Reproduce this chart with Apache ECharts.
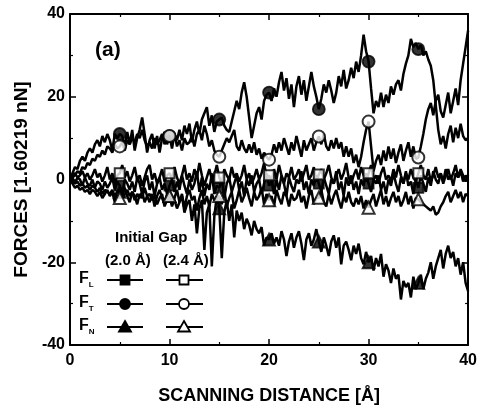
<!DOCTYPE html>
<html>
<head>
<meta charset="utf-8">
<script src="https://cdn.jsdelivr.net/npm/echarts@6/dist/echarts.min.js"></script>
<style>
  html, body { margin: 0; padding: 0; background: #fff; }
  #chart { width: 480px; height: 411px; }
</style>
</head>
<body>
<div id="chart"></div>
<script>
// sampling step along the scan, in Angstrom (values below are read every 0.25 A)
const scanStep = 0.25;
const xTicks = [0, 10, 20, 30, 40];
const yTicks = [-40, -20, 0, 20, 40];

// F_T, initial gap 2.0 A (filled circles)
const ft20 = [
  0, 1.5, 3, 2.5,   4.5, 5.5, 4.5, 6.5,   7.5, 6.5, 8.5, 9.5,   8, 10.5, 9, 11,   9.5, 7, 11, 10,
  11, 10.5, 8, 11.5,   8.5, 12, 7, 10,   12, 15, 11, 6.5,   9.5, 11, 7.5, 10.5,   6.5, 10, 11.5, 8.5,
  10.5, 7.5, 11, 9.5,   12, 9.5, 13, 11,   13.5, 9, 12, 14,   11, 14.5, 16, 17.5,   13, 15.5, 11.5, 14,
  14.5, 15, 13, 12,   11.5, 14, 16.5, 19,   17, 21, 23.5, 20,   15, 10, 13, 16,   17.5, 14.5, 19, 20.5,
  21, 19, 22, 20,   23.5, 26, 21.5, 24.5,   19.5, 23, 17.5, 22.5,   25, 20.5, 24, 19,   22.5, 26, 22.5, 20,
  17, 19.5, 23, 21,   24, 21.5, 18.5, 21,   25, 22.5, 26.5, 22,   24, 27, 24.5, 28.5,   26, 30, 35, 31,
  28.5, 22, 16, 19,   17.5, 21, 17.5, 20.5,   18.5, 22.5, 20.5, 23,   24, 21.5, 25.5, 28,   30, 34, 32, 33,
  31.5, 32.5, 30, 31,   29, 27.5, 24, 18,   12, 8.5, 10.5, 7.5,   11, 13, 9, 12.5,   10, 13.5, 10.5, 9.5,
  10
];

// F_T, initial gap 2.4 A (open circles)
const ft24 = [
  0, 0.5, 1, 2,   1.5, 3, 2.5, 4,   3.5, 5, 4.5, 6,   5.5, 7, 6, 8,   7.5, 6.5, 8.5, 7.5,
  8, 9, 7, 9.5,   8.5, 10, 9, 11,   10, 12, 9.5, 8,   9, 7.5, 10, 8.5,   9.5, 11, 8.5, 10,
  10.5, 9, 11, 8,   9.5, 7, 10, 8.5,   9, 10.5, 8, 11,   12, 9.5, 13, 11,   8, 9.5, 7, 6,
  5.5, 7, 8.5, 10,   9, 10.5, 12, 8,   7, 9.5, 7.5, 6.5,   8.5, 6.5, 9, 6,   7.5, 5, 6.5, 5.5,
  4.8, 6, 8.5, 6.5,   9, 7, 10, 8,   6, 9, 7, 10.5,   8, 5.5, 9.5, 7,   8.5, 10, 7, 9,
  10.4, 8.5, 11, 8,   7, 9.5, 7.5, 10,   7.5, 9, 5.5, 8,   5.5, 7.5, 4, 6,   3, 5.5, 9, 12,
  14, 8, 2, 4.5,   6, 3.5, 7, 4.5,   8, 5, 7.5, 4,   6.5, 8.5, 4.5, 7,   9, 5.5, 8, 5,
  5.3, 8, 11, 14.5,   17, 18.5, 15.5, 19,   20.5, 16.5, 15, 18,   21, 16, 19, 22,   18, 24, 28, 32,
  36
];

// F_N, initial gap 2.0 A (filled triangles)
const fn20 = [
  0, -0.5, -1, -0.5,   -1.5, -1, -2, -1.5,   -2.5, -1.5, -2, -3,   -2, -3.5, -2.5, -3,   -3.5, -2.5, -4, -3,
  -3, -4.5, -3.5, -2.5,   -4, -3, -5, -3.5,   -4.5, -3, -5.5, -4,   -3.5, -5, -4, -6,   -4.5, -3.5, -6.5, -5,
  -4, -6, -5, -7,   -5.5, -4, -8, -6,   -5, -10, -6, -13,   -7, -5, -17, -8,   -6, -21, -9, -4,
  -7, -19, -8, -5,   -10, -6, -14, -7.5,   -10, -8, -12, -9.5,   -11, -13.5, -10, -12,   -13, -11.5, -16, -14,
  -14.5, -13, -15.5, -14,   -16, -12.5, -14.5, -18.5,   -15, -13, -16.5, -14,   -12.5, -15.5, -19.5, -14.5,   -13, -16, -14.5, -12,
  -15, -17.5, -14, -16,   -18.5, -15, -13.5, -16.5,   -14, -20.5, -16, -15,   -17, -19.5, -16, -18,   -15.5, -19, -20.5, -17.5,
  -20, -18.5, -22, -19,   -21, -18, -23.5, -20.5,   -22, -25, -21.5, -24,   -23, -29, -24.5, -26,   -25, -28.5, -23.5, -26.5,
  -25, -23, -26.5, -24,   -22.5, -20, -24, -21,   -19, -17, -21.5, -18,   -16, -19, -17.5, -21,   -19, -23, -20, -25,
  -27
];

// F_L, initial gap 2.0 A (filled squares)
const fl20 = [
  0, 0.5, -1, 0.5,   0, -1.5, 0.5, -1,   -1.5, 0, -2, -0.5,   -1, -2.5, -0.5, -2,   -1, 0.5, -2.5, -0.5,
  -1.5, -3.5, 0, -1,   -2.5, -0.5, -3, 0.5,   -1, -3.5, -0.5, 1,   -2.5, -0.5, -4, -1,   0.5, -2.5, -1, -3.5,
  -1.5, 0, -3, -0.5,   -2.5, 1, -1.5, -3.5,   0, -2.5, -1, 2,   -3, 0.5, -4, -1,   -2.5, 1.5, -3.5, -1.5,
  -2, 0, -4.5, -1,   0.5, -3, -1, 1,   -2.5, -0.5, -4, 0,   -1.5, 1, -3, -1,   0, -3.5, -1, 1.5,
  -1.5, -0.5, -3.5, 0,   -2.5, 1, -1, -4,   0.5, -1.5, -3, 0,   -1, 2, -2.5, -0.5,   -3.5, 0, -1.5, 1,
  -1, -3, 0.5, -1.5,   -3.5, 0, -1, 2,   -2.5, -0.5, -4, 0.5,   -1.5, 1, -2.5, -0.5,   -3.5, 0, -1.5, 1.5,
  -1, -3, 0, -1,   1, -2.5, -0.5, -3.5,   0, -1.5, 1.5, -1,   -3, 0.5, -1, 2,   -1.5, -0.5, -3.5, 0,
  -2, 1, -1, -3,   0.5, -1.5, 2, 0,   -1, 1.5, -0.5, 2.5,   0, 1, -1.5, 1.5,   0.5, 2, -0.5, 1,
  0
];

// F_L, initial gap 2.4 A (open squares)
const fl24 = [
  0, 1, 1.5, 0.5,   1, 2, 0.5, 1.5,   0, 1, 2.5, 0.5,   1.5, -0.5, 1, 3,   0, 1.5, -1, 1,
  1.5, 3.5, 0.5, 2,   -0.5, 1, 3, 0,   1, -1.5, 0.5, 2.5,   3.5, 0, 1.5, -1,   0.5, 2.5, -0.5, 1,
  1.5, 0, 3, 0.5,   -1, 1, 3.5, 0,   1.5, -0.5, 2.5, 0.5,   4, 1, -1.5, 0.5,   2.5, 0, 1, 3.5,
  0.5, -1, 2.5, 1,   0, 3, 0.5, 1.5,   -0.5, 1, 3.5, 0,   1.5, -1, 0.5, 2.5,   0, 1.5, 4, 0.5,
  1, -0.5, 2.5, 0,   3.5, 1, -1, 1.5,   0.5, 3, 0, 1,   2.5, -0.5, 1.5, 3.5,   0, 1, 3, -0.5,
  1.2, 2.5, 0, 1.5,   3.5, 0.5, -1, 1,   2.5, 0, 1.5, 4,   0.5, -1, 1, 2.5,   0, 3, 1, -0.5,
  1.5, 3.5, 0, 1,   -1, 1.5, 3, 0,   1, -0.5, 2.5, 0.5,   3.5, 1, -1, 1.5,   0, 2.5, 0.5, -0.5,
  1.5, 3.5, 1, 0,   2.5, -0.5, 1, 3,   0.5, 1.5, -1, 1,   2.5, 0, 1.5, 3.5,   0.5, 2.5, 1, -0.5,
  1
];

// F_N, initial gap 2.4 A (open triangles)
const fn24 = [
  0, -1, -2, -1.5,   -2.5, -2, -3, -2.5,   -3.5, -2.5, -3, -4,   -3, -4.5, -3.5, -2.5,   -4, -3, -5.5, -4,
  -4.5, -3.5, -2, -4,   -5.5, -3, -4, -6,   -3.5, -4.5, -2, -4,   -5.5, -3.5, -6.5, -4,   -2.5, -4.5, -6, -3.5,
  -4, -6.5, -4.5, -2.5,   -5.5, -3.5, -7, -4,   -2.5, -5, -4, -7.5,   -4.5, -2.5, -6, -4,   -6.5, -3.5, -5, -4.5,
  -4, -6, -2.5, -6.5,   -4.5, -3, -7, -5,   -2.5, -5.5, -4, -2,   -4.5, -6.5, -3, -5,   -4, -2, -6, -3.5,
  -5, -4, -6.5, -2.5,   -4.5, -6, -3, -4,   -6.5, -3.5, -5, -4.5,   -2.5, -5.5, -4, -7,   -4, -2.5, -6, -4.5,
  -4.4, -2.5, -5.5, -6.5,   -3.5, -6, -4, -2.5,   -5, -7, -4, -5.5,   -3, -5.5, -6.5, -4.5,   -6, -4, -7, -5,
  -6.8, -5, -3.5, -6.5,   -4.5, -2.5, -6, -4,   -6.5, -4.5, -3, -5.5,   -4, -6.5, -5, -3,   -6, -4, -7, -4.5,
  -4.8, -5.5, -6, -6.5,   -7, -7.5, -6.5, -8.5,   -8, -6.5, -5.5, -4,   -3, -5.5, -4, -2.5,   -4.5, -3, -5.5, -3.5,
  -4
];

const FONT = '"Liberation Sans", Arial, sans-serif';

function toPoints(vals) {
  return vals.map((v, i) => [i * scanStep, v]);
}

// markers every 5 A (every 20th sample), not at the ends
function markerPoints(vals) {
  return toPoints(vals).filter((p, i) => i > 0 && i < vals.length - 1 && i % 20 === 0);
}

function lineSeries(name, vals) {
  return {
    name: name,
    type: 'line',
    data: toPoints(vals),
    showSymbol: false,
    lineStyle: { color: '#000', width: 2.5 },
    silent: true,
    animation: false,
    z: 2
  };
}

function markerSeries(name, vals, symbol, size) {
  return {
    name: name + ' marks',
    type: 'scatter',
    data: markerPoints(vals),
    symbol: symbol,
    symbolSize: size,
    itemStyle: { color: '#000', borderColor: '#000', borderWidth: 1.8 },
    silent: true,
    animation: false,
    z: 3
  };
}

const chart = echarts.init(document.getElementById('chart'), null, { renderer: 'canvas' });

// legend block drawn by hand: two columns (2.0 A and 2.4 A), three rows
const legendRows = [
  { label: 'L', y: 280, shape: 'rect' },
  { label: 'T', y: 304, shape: 'circle' },
  { label: 'N', y: 327, shape: 'triangle' }
];
const legendCols = [{ x0: 107, x1: 143, cx: 125, filled: true }, { x0: 166, x1: 203, cx: 184, filled: false }];

function legendMark(shape, cx, cy, filled) {
  const style = { fill: filled ? '#000' : '#fff', stroke: '#000', lineWidth: 1.8 };
  if (shape === 'rect') {
    return { type: 'rect', shape: { x: cx - 4.5, y: cy - 4.5, width: 9, height: 9 }, style: style };
  }
  if (shape === 'circle') {
    return { type: 'circle', shape: { cx: cx, cy: cy, r: 5 }, style: style };
  }
  return { type: 'polygon', shape: { points: [[cx, cy - 6], [cx + 6, cy + 4.5], [cx - 6, cy + 4.5]] }, style: style };
}

const legendGraphics = [
  { type: 'text', left: 115, top: 230, style: { text: 'Initial Gap', font: 'bold 15px ' + FONT, fill: '#000' } },
  { type: 'text', left: 105, top: 253, style: { text: '(2.0 Å)', font: 'bold 15px ' + FONT, fill: '#000' } },
  { type: 'text', left: 163, top: 253, style: { text: '(2.4 Å)', font: 'bold 15px ' + FONT, fill: '#000' } },
  { type: 'text', left: 95, top: 40, style: { text: '(a)', font: 'bold 21px ' + FONT, fill: '#000' } }
];
legendRows.forEach(row => {
  legendGraphics.push({
    type: 'text', left: 79, top: row.y - 9,
    style: {
      text: '{f|F}{s|' + row.label + '}',
      rich: {
        f: { font: 'bold 16px ' + FONT, fill: '#000' },
        s: { font: 'bold 8px ' + FONT, fill: '#000', padding: [12, 0, 0, 0] }
      }
    }
  });
  legendCols.forEach(col => {
    legendGraphics.push({ type: 'line', shape: { x1: col.x0, y1: row.y, x2: col.x1, y2: row.y }, style: { stroke: '#000', lineWidth: 1.8 } });
    legendGraphics.push(legendMark(row.shape, col.cx, row.y, col.filled));
  });
});

const axisLineStyle = { onZero: false, lineStyle: { color: '#000', width: 2 } };
const tickStyle = { show: true, inside: true, length: 6, lineStyle: { color: '#000', width: 1.5 } };
const minorStyle = { show: true, splitNumber: 2, length: 3, lineStyle: { color: '#000', width: 1.2 } };

const option = {
  backgroundColor: '#fff',
  animation: false,
  grid: { left: 70, right: 8, top: 14, bottom: 66 },
  xAxis: [
    {
      type: 'value', min: xTicks[0], max: xTicks[xTicks.length - 1], interval: 10,
      position: 'bottom',
      axisLine: axisLineStyle, axisTick: tickStyle, minorTick: minorStyle,
      splitLine: { show: false },
      axisLabel: { color: '#000', fontFamily: FONT, fontWeight: 'bold', fontSize: 16, margin: 8 },
      name: 'SCANNING DISTANCE [Å]', nameLocation: 'middle', nameGap: 42,
      nameTextStyle: { color: '#000', fontFamily: FONT, fontWeight: 'bold', fontSize: 18 }
    },
    {
      type: 'value', min: xTicks[0], max: xTicks[xTicks.length - 1], interval: 10,
      position: 'top',
      axisLine: axisLineStyle, axisTick: tickStyle, minorTick: minorStyle,
      splitLine: { show: false }, axisLabel: { show: false }
    }
  ],
  yAxis: [
    {
      type: 'value', min: yTicks[0], max: yTicks[yTicks.length - 1], interval: 20,
      position: 'left',
      axisLine: axisLineStyle, axisTick: tickStyle, minorTick: minorStyle,
      splitLine: { show: false },
      axisLabel: { color: '#000', fontFamily: FONT, fontWeight: 'bold', fontSize: 16, margin: 5 },
      name: 'FORCES [1.60219 nN]', nameLocation: 'middle', nameGap: 37, nameRotate: 90,
      nameTextStyle: { color: '#000', fontFamily: FONT, fontWeight: 'bold', fontSize: 19 }
    },
    {
      type: 'value', min: yTicks[0], max: yTicks[yTicks.length - 1], interval: 20,
      position: 'right',
      axisLine: axisLineStyle, axisTick: tickStyle, minorTick: minorStyle,
      splitLine: { show: false }, axisLabel: { show: false }
    }
  ],
  series: [
    lineSeries('FL 2.0', fl20),
    lineSeries('FL 2.4', fl24),
    lineSeries('FN 2.4', fn24),
    lineSeries('FN 2.0', fn20),
    lineSeries('FT 2.4', ft24),
    lineSeries('FT 2.0', ft20),
    markerSeries('FL 2.0', fl20, 'rect', 10),
    markerSeries('FL 2.4', fl24, 'emptyRect', 10),
    markerSeries('FN 2.0', fn20, 'triangle', 12),
    markerSeries('FN 2.4', fn24, 'emptyTriangle', 12),
    markerSeries('FT 2.0', ft20, 'circle', 12),
    markerSeries('FT 2.4', ft24, 'emptyCircle', 12)
  ],
  graphic: legendGraphics
};

chart.setOption(option);
</script>
</body>
</html>
